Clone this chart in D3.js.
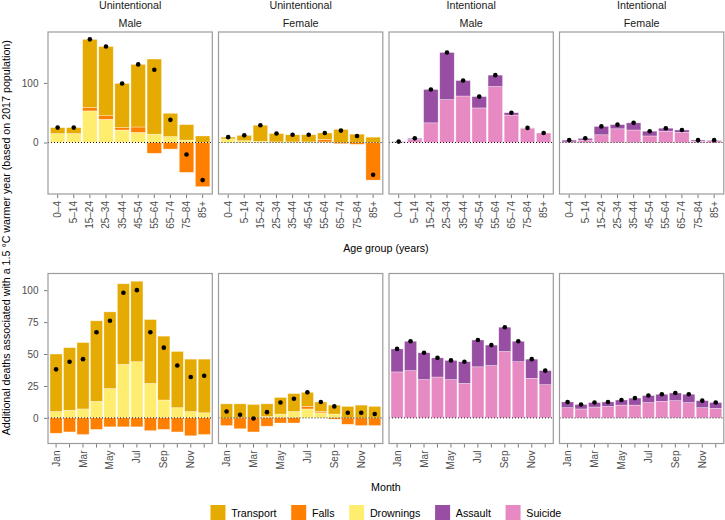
<!DOCTYPE html>
<html><head><meta charset="utf-8">
<script src="https://cdn.jsdelivr.net/npm/d3@7"></script>
<style>body{margin:0;background:#fff} svg{font-family:"Liberation Sans",Arial,Helvetica,sans-serif}</style>
</head><body><svg id="c" width="725" height="520"></svg>
<script>
// ---------- data ----------
const ageGroups = ["0–4","5–14","15–24","25–34","35–44","45–54","55–64","65–74","75–84","85+"];
const months = ["Jan","Feb","Mar","Apr","May","Jun","Jul","Aug","Sep","Oct","Nov","Dec"];
const monthTickLabels = ["Jan","","Mar","","May","","Jul","","Sep","","Nov",""];
const topYTicks = [0, 100];
const bottomYTicks = [0, 25, 50, 75, 100];
const legendLabels = ["Transport","Falls","Drownings","Assault","Suicide"];

// Unintentional, male, by age
const ageMaleTransport = [10, 10, 114, 116, 74, 105, 126, 39, 26, 11];
const ageMaleFalls     = [0, 0, 6, 6, 4, 9, -18, -11, -50, -74];
const ageMaleDrownings = [15, 15, 53, 39, 21, 17, 14, 10, 4, 0];
// Unintentional, female, by age
const ageFemaleTransport = [3, 9, 27, 14, 12, 12, 11, 22, 14, 9];
const ageFemaleFalls     = [0, 0, 0, 0, 0, 0, 4, -2, -3, -63];
const ageFemaleDrownings = [6, 3, 2, 1, 1, 1, 1, 0, 0, 0];
// Intentional, male, by age
const ageMaleSuicide = [0.5, 5, 33, 72, 78, 58, 94, 46, 24, 16];
const ageMaleAssault = [1, 2, 56, 79, 26, 19, 19, 4, 0.5, 0];
// Intentional, female, by age
const ageFemaleSuicide = [1, 4, 13, 23, 21, 11, 19, 17, 2, 3];
const ageFemaleAssault = [3, 3, 14, 7, 12, 8, 5, 4, 2, 1];

// Unintentional, male, by month
const monMaleTransport = [45, 49, 52, 63, 60, 63, 63, 50, 50, 44, 41, 42];
const monMaleFalls     = [-12, -11, -13, -9, -7, -7, -7, -10, -9, -11, -14, -13];
const monMaleDrownings = [5, 6, 7, 13, 23, 42, 44, 27, 14, 8, 5, 4];
// Unintentional, female, by month
const monFemaleTransport = [11, 11, 10.5, 10, 13, 14, 11, 7.5, 7, 9, 10, 9];
const monFemaleFalls     = [-6, -8.5, -11, -6.5, -4, -4, 2, 1, -1, -5, -6, -6];
const monFemaleDrownings = [0, 0, 0, 1, 3, 5, 7, 4, 3, 0, 0, 0];
// Intentional, male, by month
const monMaleSuicide = [36, 37, 30, 32, 30, 27, 40, 41, 52, 44, 31, 26];
const monMaleAssault = [18, 23, 21, 15, 15, 17, 21, 16, 19, 16, 15, 11];
// Intentional, female, by month
const monFemaleSuicide = [8, 7, 8.5, 9, 10, 10, 12, 13, 13.5, 12, 8, 7.5];
const monFemaleAssault = [4.5, 3.5, 3.5, 3.5, 4, 5.5, 5.5, 5.5, 6, 6.5, 5.5, 4.5];

// ---------- styles ----------
const colors = {Transport:"#E6AB02", Falls:"#FF7F00", Drownings:"#FFED6F", Assault:"#984EA3", Suicide:"#E78AC3"};
const unintKeys = ["Drownings","Falls","Transport"];
const intKeys = ["Suicide","Assault"];

const panels = [
  {row:0,col:0,strip:["Unintentional","Male"],cats:ageGroups,keys:unintKeys,s:{Transport:ageMaleTransport,Falls:ageMaleFalls,Drownings:ageMaleDrownings}},
  {row:0,col:1,strip:["Unintentional","Female"],cats:ageGroups,keys:unintKeys,s:{Transport:ageFemaleTransport,Falls:ageFemaleFalls,Drownings:ageFemaleDrownings}},
  {row:0,col:2,strip:["Intentional","Male"],cats:ageGroups,keys:intKeys,s:{Suicide:ageMaleSuicide,Assault:ageMaleAssault}},
  {row:0,col:3,strip:["Intentional","Female"],cats:ageGroups,keys:intKeys,s:{Suicide:ageFemaleSuicide,Assault:ageFemaleAssault}},
  {row:1,col:0,cats:months,keys:unintKeys,s:{Transport:monMaleTransport,Falls:monMaleFalls,Drownings:monMaleDrownings}},
  {row:1,col:1,cats:months,keys:unintKeys,s:{Transport:monFemaleTransport,Falls:monFemaleFalls,Drownings:monFemaleDrownings}},
  {row:1,col:2,cats:months,keys:intKeys,s:{Suicide:monMaleSuicide,Assault:monMaleAssault}},
  {row:1,col:3,cats:months,keys:intKeys,s:{Suicide:monFemaleSuicide,Assault:monFemaleAssault}}
];

// ---------- layout ----------
const svg = d3.select("#c");
const left0 = 48, panelW = 164.3, gapW = 6.2;
const rows = [{top:32,bottom:194,ticks:topYTicks,labels:null},{top:273.5,bottom:443.5,ticks:bottomYTicks,labels:monthTickLabels}];
const axisTextColor = "#4d4d4d", tickColor = "#7a7a7a", borderColor = "#9c9c9c";

panels.forEach(p=>{
  p.table = p.cats.map((c,i)=>{const o={cat:c}; p.keys.forEach(k=>o[k]=p.s[k][i]); return o;});
  p.stacked = d3.stack().keys(p.keys).offset(d3.stackOffsetDiverging)(p.table);
  p.totals = p.table.map(o=>({cat:o.cat,v:d3.sum(p.keys,k=>o[k])}));
  p.lo = d3.min(p.stacked,s=>d3.min(s,d=>d[0])); p.hi = d3.max(p.stacked,s=>d3.max(s,d=>d[1]));
});
rows.forEach((r,ri)=>{
  const ps = panels.filter(p=>p.row===ri);
  const lo = Math.min(0,d3.min(ps,p=>p.lo)), hi = d3.max(ps,p=>p.hi);
  const pad = (hi-lo)*0.05;
  r.y = d3.scaleLinear().domain([lo-pad,hi+pad]).range([r.bottom,r.top]);
});

panels.forEach(p=>{
  const r = rows[p.row];
  const x0 = left0 + p.col*(panelW+gapW);
  const x = d3.scaleBand().domain(p.cats).range([x0,x0+panelW]).paddingInner(0.1).paddingOuter(0.15);
  const y = r.y;
  const g = svg.append("g");
  // bars
  p.stacked.forEach(s=>{
    g.selectAll(null).data(s.filter(d=>d[1]!==d[0])).enter().append("rect")
      .attr("x",d=>x(d.data.cat)).attr("width",x.bandwidth())
      .attr("y",d=>y(Math.max(d[0],d[1]))).attr("height",d=>Math.abs(y(d[0])-y(d[1])))
      .attr("fill",colors[s.key]).attr("stroke","#fff").attr("stroke-opacity",0.55).attr("stroke-width",0.6);
  });
  // zero line
  g.append("line").attr("x1",x0).attr("x2",x0+panelW).attr("y1",y(0)).attr("y2",y(0))
    .attr("stroke","#000").attr("stroke-width",0.9).attr("stroke-dasharray","1,2");
  // points
  g.selectAll(null).data(p.totals).enter().append("circle")
    .attr("cx",d=>x(d.cat)+x.bandwidth()/2).attr("cy",d=>y(d.v)).attr("r",2.3).attr("fill","#000");
  // border
  g.append("rect").attr("x",x0).attr("y",r.top).attr("width",panelW).attr("height",r.bottom-r.top)
    .attr("fill","none").attr("stroke",borderColor).attr("stroke-width",1.2);
  // x axis
  const xa = g.append("g").attr("transform",`translate(0,${r.bottom})`)
    .call(d3.axisBottom(x).tickSize(4).tickPadding(0).tickSizeOuter(0).tickFormat((d,i)=>r.labels? r.labels[i] : d));
  xa.select(".domain").remove();
  xa.selectAll(".tick line").attr("stroke",tickColor).attr("y1",0.6);
  xa.selectAll(".tick text").attr("transform","rotate(-90)").attr("x",-7).attr("y",0).attr("dy","0.35em")
    .attr("text-anchor","end").attr("fill",axisTextColor).style("font-size","10px").style("font-family","'Liberation Sans',Arial,sans-serif");
  // y axis
  if(p.col===0){
    const ya = g.append("g").attr("transform",`translate(${x0},0)`)
      .call(d3.axisLeft(y).tickValues(r.ticks).tickSize(4).tickPadding(5.5).tickSizeOuter(0));
    ya.select(".domain").remove();
    ya.selectAll(".tick line").attr("stroke",tickColor).attr("x1",-0.6);
    ya.selectAll(".tick text").attr("fill",axisTextColor).style("font-size","10px").style("font-family","'Liberation Sans',Arial,sans-serif");
  }
  // strips
  if(p.strip){
    const cx = x0+panelW/2;
    g.append("text").attr("x",cx).attr("y",8.8).attr("text-anchor","middle").style("font-size","10.7px").attr("fill","#1a1a1a").text(p.strip[0]);
    g.append("text").attr("x",cx).attr("y",26.5).attr("text-anchor","middle").style("font-size","10.7px").attr("fill","#1a1a1a").text(p.strip[1]);
  }
});

const midX = left0 + (4*panelW+3*gapW)/2;
svg.append("text").attr("x",midX).attr("y",252).attr("text-anchor","middle").style("font-size","10.7px").text("Age group (years)");
svg.append("text").attr("x",midX).attr("y",490.5).attr("text-anchor","middle").style("font-size","10.7px").text("Month");
svg.append("text").attr("transform",`translate(10,${(rows[0].top+rows[1].bottom)/2}) rotate(-90)`)
  .attr("text-anchor","middle").style("font-size","10.7px").text("Additional deaths associated with a 1.5 °C warmer year (based on 2017 population)");

// legend
const lg = svg.append("g");
const box = 15, tgap = 5.7, spacing = 14.7;
const items = legendLabels.map(l=>{
  const t = lg.append("text").style("font-size","10.7px").text(l);
  return {l, t, w:t.node().getComputedTextLength()};
});
const total = d3.sum(items,d=>box+tgap+d.w) + spacing*(items.length-1);
let cx = midX - total/2;
items.forEach(it=>{
  lg.append("rect").attr("x",cx).attr("y",505).attr("width",box).attr("height",box).attr("fill",colors[it.l]);
  it.t.attr("x",cx+box+tgap).attr("y",516.5);
  cx += box+tgap+it.w+spacing;
});
</script></body></html>
